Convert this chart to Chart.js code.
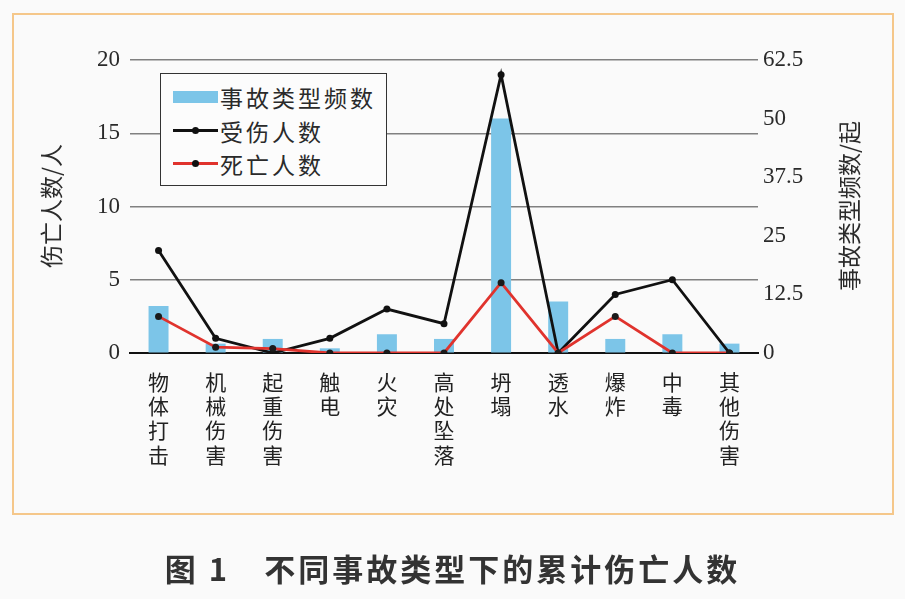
<!DOCTYPE html>
<html>
<head>
<meta charset="utf-8">
<script src="https://cdn.jsdelivr.net/npm/chart.js@4/dist/chart.umd.min.js"></script>
<style>
 html,body{margin:0;padding:0;background:#fafafa}
 #wrap{position:relative;width:905px;height:599px;overflow:hidden}
 #frame{position:absolute;left:12px;top:13px;width:878px;height:498px;border:2px solid #f5c78a;box-sizing:content-box}
 #c{position:absolute;left:0;top:0}
 .ytitle{position:absolute;font-family:"Noto Sans CJK SC";font-size:23px;color:#2a2a2a;white-space:nowrap;transform:translate(-50%,-50%) rotate(-90deg)}
 #legend{position:absolute;left:160px;top:73px;width:225px;height:111px;border:1.5px solid #333;background:#fcfcfc;font-family:"Noto Sans CJK SC";font-size:23px;color:#2a2a2a}
 .item{position:absolute;left:12px;height:30px;line-height:30px;white-space:nowrap}
 .sw{position:absolute;left:0;top:15px;width:45px}
 .txt{position:absolute;left:47px;top:0;letter-spacing:3px}
 .dot{position:absolute;left:19px;width:7px;height:7px;border-radius:50%;background:#111}
 #caption{position:absolute;left:0;width:905px;top:545px;text-align:center;font-family:"Noto Sans CJK SC";font-weight:bold;font-size:31px;color:#333;letter-spacing:3px;white-space:pre}
</style>
</head>
<body>
<div id="wrap">
 <div id="frame"></div>
 <canvas id="c" width="905" height="599"></canvas>
 <div class="ytitle" style="left:50px;top:206px">伤亡人数/人</div>
 <div class="ytitle" style="left:848px;top:206px">事故类型频数/起</div>
 <div id="legend">
  <div class="item" style="top:8px"><div class="sw" style="top:9px;height:12px;background:#7cc5e8"></div><div class="txt">事故类型频数</div></div>
  <div class="item" style="top:42px"><div class="sw" style="top:13px;height:3px;background:#111"></div><div class="dot" style="top:11px"></div><div class="txt">受伤人数</div></div>
  <div class="item" style="top:75px"><div class="sw" style="top:13px;height:3px;background:#e0332d"></div><div class="dot" style="top:11px"></div><div class="txt">死亡人数</div></div>
 </div>
 <div id="caption">图 1　不同事故类型下的累计伤亡人数</div>
</div>
<script>
const categories = ['物体打击','机械伤害','起重伤害','触电','火灾','高处坠落','坍塌','透水','爆炸','中毒','其他伤害']
const accidentCounts = [10,2,3,1,4,3,50,11,3,4,2]
const injured = [7,1,0,1,3,2,19,0,4,5,0]
const deaths = [2.5,0.4,0.3,0,0,0,4.8,0,2.5,0,0]
const leftTicks = [0,5,10,15,20]
const rightTicks = [0,12.5,25,37.5,50,62.5]

const numFont = {family:'"Liberation Serif"', size:23}

new Chart(document.getElementById('c'),{
 data:{
  labels:categories.map(s=>s.split('')),
  datasets:[
   {type:'line',label:'死亡人数',data:deaths,yAxisID:'y',order:1,
    borderColor:'#e0332d',borderWidth:2.8,pointRadius:3.5,pointBackgroundColor:'#1a1a1a',pointBorderWidth:0,tension:0},
   {type:'line',label:'受伤人数',data:injured,yAxisID:'y',order:2,
    borderColor:'#111',borderWidth:2.8,pointRadius:3.5,pointBackgroundColor:'#111',pointBorderWidth:0,tension:0},
   {type:'bar',label:'事故类型频数',data:accidentCounts,yAxisID:'y1',order:3,
    backgroundColor:'#7cc5e8',barPercentage:0.35,categoryPercentage:1}
  ]
 },
 options:{
  responsive:false,
  animation:false,
  layout:{padding:{left:90,right:87,top:60,bottom:96}},
  plugins:{legend:{display:false},tooltip:{enabled:false}},
  scales:{
   x:{
    grid:{display:false},
    border:{display:true,color:'#111',width:2},
    ticks:{autoSkip:false,maxRotation:0,minRotation:0,padding:9,color:'#222',
     font:{family:'"Noto Sans CJK SC"',size:21,lineHeight:1.15}},
    afterFit:s=>{s.height=150}
   },
   y:{
    position:'left',min:0,max:20,
    afterBuildTicks:s=>{s.ticks=leftTicks.map(v=>({value:v}))},
    grid:{drawTicks:false,lineWidth:1.5,color:c=>c.tick && c.tick.value===0 ? '#111' : '#808080'},
    border:{display:false},
    ticks:{padding:10,color:'#2a2a2a',font:numFont},
    afterFit:s=>{s.width=40}
   },
   y1:{
    position:'right',min:0,max:62.5,
    afterBuildTicks:s=>{s.ticks=rightTicks.map(v=>({value:v}))},
    grid:{drawOnChartArea:false,drawTicks:false},
    border:{display:false},
    ticks:{padding:5,color:'#2a2a2a',font:numFont,callback:v=>String(v)},
    afterFit:s=>{s.width=60}
   }
  }
 }
})
</script>
</body>
</html>
